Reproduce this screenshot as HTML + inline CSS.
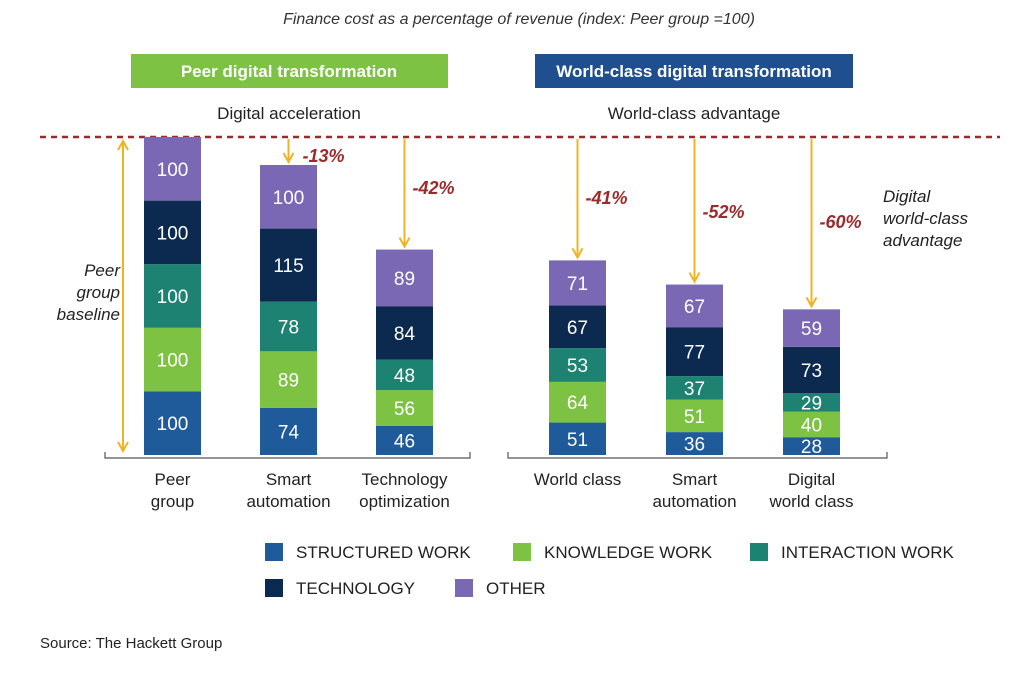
<!DOCTYPE html>
<html><head><meta charset="utf-8"><style>
body{margin:0;background:#fff;width:1034px;height:673px;overflow:hidden;font-family:"Liberation Sans",sans-serif}
svg text{font-family:"Liberation Sans",sans-serif}
</style></head><body>
<svg id="c" width="1034" height="673">
<text x="519" y="24" font-size="16" font-style="italic" fill="#333" text-anchor="middle">Finance cost as a percentage of revenue (index: Peer group =100)</text>
<rect x="131" y="54" width="317" height="34" fill="#7dc242"/>
<text x="289" y="77" font-size="17" font-weight="bold" fill="#fff" text-anchor="middle">Peer digital transformation</text>
<rect x="535" y="54" width="318" height="34" fill="#1f4f8f"/>
<text x="694" y="77" font-size="17" font-weight="bold" fill="#fff" text-anchor="middle">World-class digital transformation</text>
<text x="289" y="119" font-size="17" fill="#222" text-anchor="middle">Digital acceleration</text>
<text x="694" y="119" font-size="17" fill="#222" text-anchor="middle">World-class advantage</text>
<line x1="40" y1="137" x2="1000" y2="137" stroke="#9b2a2a" stroke-width="2.5" stroke-dasharray="6,5"/>
<g fill="#222" font-size="17" font-style="italic" text-anchor="end">
<text x="120" y="276">Peer</text><text x="120" y="298">group</text><text x="120" y="320">baseline</text></g>
<g fill="#222" font-size="17" font-style="italic">
<text x="883" y="202">Digital</text><text x="883" y="224">world-class</text><text x="883" y="246">advantage</text></g>
<g id="bars"></g>
<g id="legend"></g>
<text x="40" y="648" font-size="15" fill="#222">Source: The Hackett Group</text>
</svg>
<script>
const categories=[["Peer","group"],["Smart","automation"],["Technology","optimization"],["World class"],["Smart","automation"],["Digital","world class"]];
const structured=[100,74,46,51,36,28];
const knowledge=[100,89,56,64,51,40];
const interaction=[100,78,48,53,37,29];
const technology=[100,115,84,67,77,73];
const other=[100,100,89,71,67,59];
const reductions=["","-13%","-42%","-41%","-52%","-60%"];
const seriesNames=["STRUCTURED WORK","KNOWLEDGE WORK","INTERACTION WORK","TECHNOLOGY","OTHER"];
const colors=["#1f5a9a","#7dc242","#1e8272","#0c2a4f","#7b68b5"];
const NS="http://www.w3.org/2000/svg";
const g=document.getElementById('bars');
const base=455,scale=318/500,bw=57;
const xs=[144,260,376,549,666,783];
function y(v){return base-v*scale;}
function mk(t,a,p){const e=document.createElementNS(NS,t);for(const k in a)e.setAttribute(k,a[k]);(p||g).appendChild(e);return e;}
// axes
[[105,470],[508,887]].forEach((r,i)=>{
const l=mk('path',{d:`M${r[0]} 452V458H${r[1]}V452`,fill:'none',stroke:'#555','stroke-width':1.2});

});
// baseline arrow
const ba=mk('path',{d:'M123 143V449M118 150L123 141L128 150M118 442L123 451L128 442',stroke:'#f0b323','stroke-width':2,fill:'none'});


const series=[structured,knowledge,interaction,technology,other];
categories.forEach((cat,i)=>{
let cum=0;
series.forEach((s,j)=>{
const v=s[i];
const r=mk('rect',{x:xs[i],y:y(cum+v),width:bw,height:v*scale,fill:colors[j]});


const t=mk('text',{x:xs[i]+bw/2,y:y(cum+v/2)+7,'font-size':19,fill:'#fff','text-anchor':'middle'});
t.textContent=v;


cum+=v;});
if(reductions[i]){
const ax=xs[i]+bw/2,top=y(cum)-3;
const a=mk('path',{d:`M${ax} 139V${top}M${ax-5} ${top-9}L${ax} ${top}L${ax+5} ${top-9}`,stroke:'#f0b323','stroke-width':2,fill:'none'});


const ly=i==1?162:(i==2?194:(i==3?204:(i==4?218:228)));
const lx=i==1?ax+14:ax+8;
const t=mk('text',{x:lx,y:ly,'font-size':18,'font-weight':'bold','font-style':'italic',fill:'#9b2a2a'});
t.textContent=reductions[i];

}
cat.forEach((line,k)=>{
const t=mk('text',{x:xs[i]+bw/2,y:485+k*22,'font-size':17,fill:'#222','text-anchor':'middle'});
t.textContent=line;

});
});
const lg=document.getElementById('legend');
const lpos=[[265,552],[513,552],[750,552],[265,588],[455,588]];
seriesNames.forEach((n,j)=>{
const e=mk('g',{},lg);


mk('rect',{x:lpos[j][0],y:lpos[j][1]-9,width:18,height:18,fill:colors[j]},e);
const t=mk('text',{x:lpos[j][0]+31,y:lpos[j][1]+6,'font-size':17,fill:'#222'},e);
t.textContent=n;});
</script>
</body></html>
